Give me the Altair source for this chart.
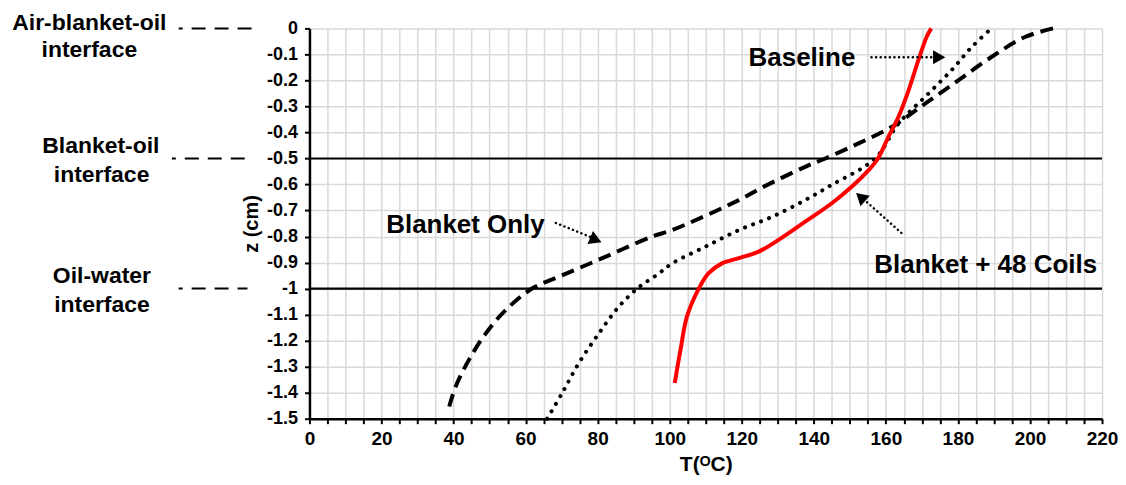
import altair as alt
import pandas as pd

FONT = "Liberation Sans"

# ---- curve data (T in degC, z in cm) ----
coils_T = [101.4, 103.0, 104.8, 108.1, 110.8, 114.5, 119.2, 124.7, 130.2, 137.6,
           145.0, 150.5, 155.2, 157.8, 160.7, 163.5, 166.3, 169.0, 171.3, 172.6]
coils_z = [-1.363, -1.235, -1.107, -0.999, -0.941, -0.903, -0.883, -0.858, -0.813, -0.743,
           -0.672, -0.609, -0.545, -0.5, -0.417, -0.340, -0.238, -0.123, -0.033, 0.0]

blanket_T = [38.8, 40.6, 44.3, 49.0, 54.5, 61.9, 69.3, 81.3, 95.1, 100.7, 119.2, 125.6,
             137.6, 143.2, 152.4, 161.6, 170.9, 180.1, 189.3, 198.6, 206.4]
blanket_z = [-1.453, -1.376, -1.273, -1.171, -1.082, -0.999, -0.954, -0.883, -0.80, -0.775,
             -0.66, -0.612, -0.532, -0.5, -0.442, -0.379, -0.289, -0.2, -0.11, -0.033, 0.0]

base_T = [66.0, 70.2, 74.8, 80.4, 85.9, 91.4, 96.5, 100.7, 109.9, 119.2, 128.4, 137.6,
          144.5, 157.0, 163.5, 170.9, 178.2, 183.8, 189.3]
base_z = [-1.5, -1.40, -1.286, -1.171, -1.069, -0.995, -0.947, -0.903, -0.839, -0.775, -0.724,
          -0.66, -0.605, -0.5, -0.366, -0.263, -0.161, -0.072, 0.0]

# ---- axis ticks ----
x_ticks = list(range(0, 221, 5))
y_ticks = [round(-i * 0.1, 1) for i in range(16)]

# ---- interfaces ----
interface_z = [-0.5, -1.0]
leader_T1 = [-36.3, -38.2, -36.3]
leader_T2 = [-15.2, -17.5, -17.2]
leader_z = [0.0, -0.5, -1.0]

left_text = ["Air-blanket-oil", "interface", "Blanket-oil", "interface", "Oil-water", "interface"]
left_T = [-61.1, -61.1, -57.9, -57.7, -57.6, -57.6]
left_z = [-0.008, -0.111, -0.479, -0.591, -0.978, -1.089]

# ---- series annotations ----
ann_text = ["Baseline", "Blanket Only", "Blanket + 48 Coils"]
ann_T = [121.9, 21.3, 156.8]
ann_z = [-0.146, -0.786, -0.94]

arrow_T1 = [156.0, 68.4, 164.3]
arrow_z1 = [-0.111, -0.748, -0.786]
arrow_T2 = [173.5, 78.1, 154.1]
arrow_z2 = [-0.111, -0.802, -0.66]
head_T = [174.8, 79.5, 153.0]
head_z = [-0.111, -0.813, -0.648]
head_angle = [90, 113, 312]

coils = pd.DataFrame({"T": coils_T, "z": coils_z, "i": range(len(coils_T))})
blanket = pd.DataFrame({"T": blanket_T, "z": blanket_z, "i": range(len(blanket_T))})
base = pd.DataFrame({"T": base_T, "z": base_z, "i": range(len(base_T))})

x_scale = alt.Scale(domain=[0, 220], nice=False, zero=False)
y_scale = alt.Scale(domain=[-1.5, 0], nice=False, zero=False)

x_axis = alt.Axis(
    values=x_ticks,
    labelExpr="datum.value % 20 == 0 ? datum.label : ''",
    labelOverlap=False, labelFlush=False,
    title="T(ᴼC)", titleFont=FONT, titleFontSize=21, titleFontWeight="bold",
    titleColor="black", titlePadding=5,
    labelFont=FONT, labelFontSize=19, labelFontWeight="bold", labelColor="black",
    labelPadding=6,
    grid=True, gridColor="#d9d9d9", gridWidth=1.5,
    domainColor="black", domainWidth=2.5, tickColor="black", tickWidth=2, tickSize=5,
)
y_axis = alt.Axis(
    values=y_ticks,
    labelExpr="datum.value == 0 ? '0' : '-' + format(-datum.value, '~g')",
    labelOverlap=False,
    title="z (cm)", titleFont=FONT, titleFontSize=20, titleFontWeight="bold",
    titleColor="black", titlePadding=5,
    labelFont=FONT, labelFontSize=18, labelFontWeight="bold", labelColor="black",
    labelPadding=7,
    grid=True, gridColor="#d9d9d9", gridWidth=1.5,
    domainColor="black", domainWidth=2.5, tickColor="black", tickWidth=2, tickSize=5,
)

X = alt.X("T:Q", scale=x_scale, axis=x_axis)
Y = alt.Y("z:Q", scale=y_scale, axis=y_axis)

INTERP = "catmull-rom"

red = alt.Chart(coils).mark_line(color="#ff0000", strokeWidth=4, interpolate=INTERP).encode(
    x=X, y=Y, order="i:Q")
dashed = alt.Chart(blanket).mark_line(color="black", strokeWidth=4, strokeDash=[13, 7],
                                      interpolate=INTERP).encode(x=X, y=Y, order="i:Q")
dotted = alt.Chart(base).mark_line(color="black", strokeWidth=4, strokeDash=[0.1, 8.5],
                                   strokeCap="round", interpolate=INTERP).encode(
    x=X, y=Y, order="i:Q")

iface = alt.Chart(pd.DataFrame({"z": interface_z})).mark_rule(color="black", strokeWidth=2.2).encode(y=Y)

leaders = alt.Chart(pd.DataFrame({"T": leader_T1, "T2": leader_T2, "z": leader_z})).mark_rule(
    color="black", strokeWidth=2, strokeDash=[14, 9], strokeDashOffset=10).encode(
    x=X, x2="T2:Q", y=Y)

left_labels = alt.Chart(pd.DataFrame({"T": left_T, "z": left_z, "t": left_text})).mark_text(
    font=FONT, fontSize=23, fontWeight="bold", align="center", baseline="alphabetic",
    color="black").encode(x=X, y=Y, text="t:N")

ann = alt.Chart(pd.DataFrame({"T": ann_T, "z": ann_z, "t": ann_text})).mark_text(
    font=FONT, fontSize=26, fontWeight="bold", align="left", baseline="alphabetic",
    color="black").encode(x=X, y=Y, text="t:N")

arrows = alt.Chart(pd.DataFrame({"T": arrow_T1, "z": arrow_z1, "T2": arrow_T2, "z2": arrow_z2})).mark_rule(
    color="black", strokeWidth=2.5, strokeDash=[0.1, 4.5], strokeCap="round").encode(
    x=X, y=Y, x2="T2:Q", y2="z2:Q")

heads = alt.Chart(pd.DataFrame({"T": head_T, "z": head_z, "a": head_angle})).mark_point(
    shape="triangle-up", filled=True, color="black", size=200, opacity=1).encode(
    x=X, y=Y, angle=alt.Angle("a:Q", scale=None))

chart = alt.layer(iface, leaders, dotted, dashed, red, arrows, heads, ann, left_labels).properties(
    width=794, height=391,
    autosize=alt.AutoSizeParams(type="none"),
    padding={"left": 302, "top": 20, "right": 16, "bottom": 62},
    background="white",
).configure_view(stroke=None)

chart.save("out.html", embed_options={"renderer": "svg", "actions": False})
